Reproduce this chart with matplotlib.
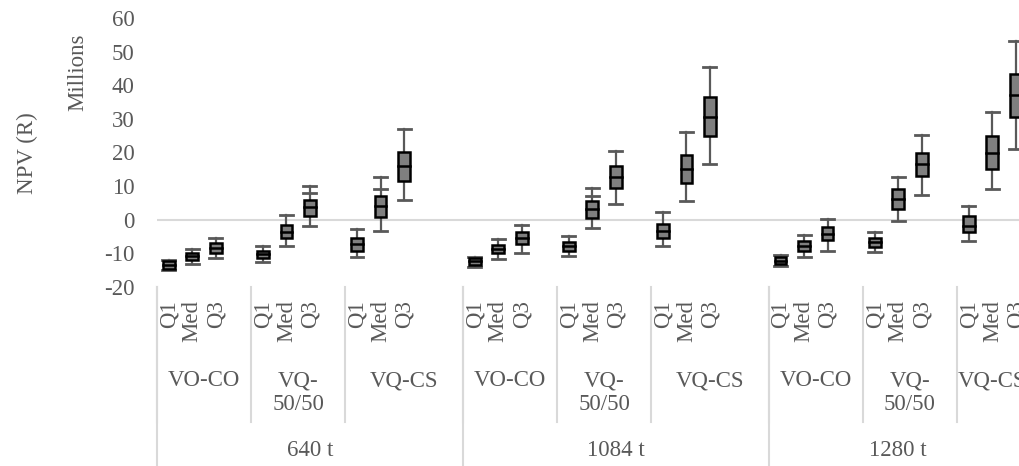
import numpy as np
import matplotlib
matplotlib.use('Agg')
import matplotlib.pyplot as plt
from matplotlib.transforms import blended_transform_factory
from matplotlib.lines import Line2D

plt.rcParams['font.family'] = ['Liberation Serif', 'DejaVu Serif']
plt.rcParams['axes.unicode_minus'] = False

# data (NPV, R millions)
groups = ['640 t', '1084 t', '1280 t']
subgroups = ['VO-CO', 'VQ-\n50/50', 'VQ-CS']
stats = ['Q1', 'Med', 'Q3']

whisk_lo = [-14.9, -13.1, -11.5, -12.7, -7.8, -2.0, -11.1, -3.3, 5.8,
            -14.1, -11.7, -9.8, -10.7, -2.5, 4.6, -7.8, 5.5, 16.6,
            -13.7, -11.1, -9.2, -9.6, -0.5, 7.5, -6.2, 9.0, 21.1]
box_lo = [-14.5, -11.9, -9.8, -11.4, -5.5, 1.0, -9.2, 0.7, 11.6,
          -13.6, -9.9, -7.2, -9.2, 0.5, 9.3, -5.3, 10.9, 24.9,
          -13.2, -9.2, -6.0, -8.2, 3.2, 12.9, -3.7, 15.1, 30.7]
median = [-13.4, -10.9, -8.3, -10.2, -3.5, 3.8, -7.2, 4.0, 15.9,
          -12.4, -8.7, -5.3, -7.8, 3.2, 12.6, -3.2, 15.1, 30.5,
          -12.2, -7.7, -4.2, -6.7, 6.2, 16.7, -1.8, 19.9, 37.1]
box_hi = [-12.3, -9.9, -7.0, -9.2, -1.5, 6.0, -5.5, 7.2, 20.2,
          -11.5, -7.5, -3.5, -6.5, 5.5, 15.9, -1.2, 19.4, 36.6,
          -11.0, -6.2, -2.3, -5.3, 9.0, 19.9, 1.0, 24.9, 43.3]
whisk_hi = [-11.9, -8.7, -5.5, -7.8, 1.3, 9.9, -2.8, 12.7, 27.1,
            -11.0, -5.8, -1.5, -4.7, 9.5, 20.4, 2.2, 26.2, 45.3,
            -10.5, -4.5, 0.2, -3.5, 12.7, 25.2, 4.2, 32.1, 53.2]
extra_cap = [None, None, None, None, None, 8.0, None, 9.2, None,
             None, None, None, None, 7.0, None, None, None, None,
             None, None, None, None, None, None, None, None, None]

# slot layout: each subgroup 3 boxes + 1 gap, groups 1 and 2 end with an extra gap
sub_slots = [[4, 4, 5], [4, 4, 5], [4, 4, 3]]

W, H = 1020, 466
fig = plt.figure(figsize=(W / 100, H / 100), dpi=100)
slot_px = 23.53
n_slots = sum(sum(s) for s in sub_slots)
x0, ytop, ybot = 157, 18, 287
ax = fig.add_axes([x0 / W, 1 - ybot / H, n_slots * slot_px / W, (ybot - ytop) / H])
ax.set_xlim(0, n_slots)
ax.set_ylim(-20, 60)

txt = '#595959'
fs = 16.5
pos = []
sub_bounds = []
grp_bounds = []
s = 0
for g, subs in enumerate(sub_slots):
    gstart = s
    for k, n in enumerate(subs):
        sub_bounds.append((s, s + n))
        for j in range(3):
            pos.append(s + j + 0.5)
        s += n
    grp_bounds.append((gstart, s))

ax.axhline(0, color='#d9d9d9', lw=1.5, zorder=1)

bw = 0.5
cw = 0.55
for i, x in enumerate(pos):
    ax.plot([x, x], [whisk_lo[i], box_lo[i]], color='#595959', lw=1.6, zorder=2)
    ax.plot([x, x], [box_hi[i], whisk_hi[i]], color='#595959', lw=1.6, zorder=2)
    for yv in (whisk_lo[i], whisk_hi[i]):
        ax.plot([x - cw / 2, x + cw / 2], [yv, yv], color='#595959', lw=2, zorder=2)
    if extra_cap[i] is not None:
        ax.plot([x - cw / 2, x + cw / 2], [extra_cap[i]] * 2, color='#595959', lw=2, zorder=2)
    ax.add_patch(plt.Rectangle((x - bw / 2, box_lo[i]), bw, box_hi[i] - box_lo[i],
                               facecolor='#7f7f7f', edgecolor='black', lw=1.8, zorder=3))
    ax.plot([x - bw / 2, x + bw / 2], [median[i]] * 2, color='black', lw=1.8, zorder=4)

for sp in ax.spines.values():
    sp.set_visible(False)
ax.set_xticks([])
ax.set_yticks(range(-20, 61, 10))
ax.tick_params(axis='y', length=0, labelsize=fs, labelcolor=txt, pad=16)

fig.text(27 / W, 1 - 153 / H, 'NPV (R)', rotation=90, ha='center', va='center', fontsize=fs, color=txt)
fig.text(78 / W, 1 - 72 / H, 'Millions', rotation=90, ha='center', va='center', fontsize=fs, color=txt)

tr = blended_transform_factory(ax.transData, fig.transFigure)
fy = lambda p: 1 - p / H

# stat labels
for i, x in enumerate(pos):
    ax.text(x, fy(300), stats[i % 3], rotation=90, ha='center', va='top',
            fontsize=fs, color=txt, transform=tr, clip_on=False)

# subgroup labels + separators
for k, (a, b) in enumerate(sub_bounds):
    ax.text((a + b) / 2, fy(370), subgroups[k % 3], ha='center', va='top', fontsize=fs,
            color=txt, transform=tr, clip_on=False, linespacing=1.2)
    ax.add_line(Line2D([a, a], [fy(287), fy(422)], color='#d9d9d9', lw=1.5, transform=tr, clip_on=False))

for g, (a, b) in enumerate(grp_bounds):
    ax.text((a + b) / 2, fy(451), groups[g], ha='center', va='center', fontsize=fs,
            color=txt, transform=tr, clip_on=False)
    ax.add_line(Line2D([a, a], [fy(287), fy(466)], color='#d9d9d9', lw=1.5, transform=tr, clip_on=False))

fig.savefig('out.png', dpi=100)
